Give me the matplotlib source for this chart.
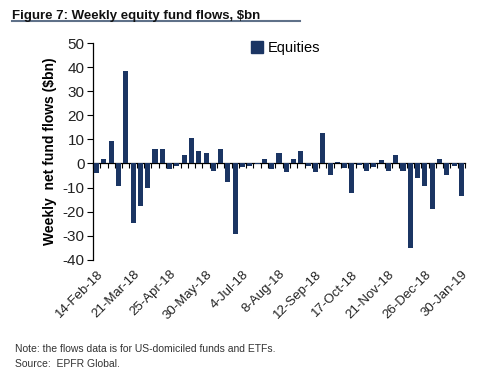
import matplotlib
matplotlib.use("Agg")
import matplotlib.pyplot as plt
from matplotlib.lines import Line2D
import numpy as np

weeks = ["14-Feb-18", "21-Feb-18", "28-Feb-18", "7-Mar-18", "14-Mar-18",
         "21-Mar-18", "28-Mar-18", "4-Apr-18", "11-Apr-18", "18-Apr-18",
         "25-Apr-18", "2-May-18", "9-May-18", "16-May-18", "23-May-18",
         "30-May-18", "6-Jun-18", "13-Jun-18", "20-Jun-18", "27-Jun-18",
         "4-Jul-18", "11-Jul-18", "18-Jul-18", "25-Jul-18", "1-Aug-18",
         "8-Aug-18", "15-Aug-18", "22-Aug-18", "29-Aug-18", "5-Sep-18",
         "12-Sep-18", "19-Sep-18", "26-Sep-18", "3-Oct-18", "10-Oct-18",
         "17-Oct-18", "24-Oct-18", "31-Oct-18", "7-Nov-18", "14-Nov-18",
         "21-Nov-18", "28-Nov-18", "5-Dec-18", "12-Dec-18", "19-Dec-18",
         "26-Dec-18", "2-Jan-19", "9-Jan-19", "16-Jan-19", "23-Jan-19",
         "30-Jan-19"]
equities = [-3.8, 1.8, 9.5, -9.5, 38.5, -24.5, -17.6, -10.3, 6.0, 6.0,
            -2.2, -1.0, 3.6, 10.6, 5.3, 4.3, -3.0, 6.0, -7.8, -29.2,
            -1.6, -1.2, -0.3, 1.8, -2.4, 4.3, -3.5, 1.9, 5.3, -1.2,
            -3.5, 12.7, -4.6, 0.7, -1.8, -12.1, -0.8, -3.0, -1.3, 1.3,
            -3.0, 3.6, -3.0, -35.0, -6.0, -9.5, -19.0, 1.9, -4.7, -1.1,
            -13.7]
tick_every = 5

navy = "#1b3563"
font = ["Liberation Sans", "DejaVu Sans"]

fig = plt.figure(figsize=(5.0, 3.81), dpi=100)
ax = fig.add_axes([0.186, 0.318, 0.744, 0.569])

x = np.arange(len(equities))
ax.bar(x, equities, width=0.7, color=navy, zorder=3)

ymin, ymax = -40, 50
ax.set_ylim(ymin, ymax)
ax.set_xlim(-0.5, len(equities) - 0.5)
ax.set_yticks(np.arange(ymin, ymax + 1, 10))
ax.set_yticklabels([str(v) for v in np.arange(ymin, ymax + 1, 10)],
                   fontsize=11, family=font, color="#222222")
ax.tick_params(axis="y", direction="out", length=4, width=0.8, pad=2)

ax.set_xticks(x[::tick_every])
ax.set_xticklabels(weeks[::tick_every], rotation=45, ha="right",
                   rotation_mode="anchor", fontsize=9.5, family=font,
                   color="#222222")
ax.tick_params(axis="x", length=0, pad=6)

for s in ["top", "right", "bottom"]:
    ax.spines[s].set_visible(False)
ax.spines["left"].set_linewidth(0.9)

# zero line with category tick marks
zero_frac = (0 - ymin) / (ymax - ymin)
sec = ax.secondary_xaxis(zero_frac)
sec.set_xticks(np.arange(-0.5, len(equities), 1.0))
sec.set_xticklabels([])
sec.tick_params(direction="out", length=3.5, width=0.8)
sec.spines["bottom"].set_linewidth(0.9)

ax.set_ylabel("Weekly  net fund flows ($bn)", fontsize=10, fontweight="bold",
              family=font, labelpad=4)

handle = Line2D([], [], marker="s", linestyle="none", markersize=8,
                markerfacecolor=navy, markeredgecolor=navy)
ax.legend([handle], ["Equities"], loc="upper center",
          bbox_to_anchor=(0.516, 1.07), frameon=False,
          handletextpad=0.3, handlelength=1.0,
          prop={"family": font, "size": 10.5})

fig.text(0.024, 0.973, "Figure 7: Weekly equity fund flows, $bn",
         fontsize=9.5, fontweight="bold", family=font, va="top",
         color="#111111")
fig.add_artist(Line2D([0.024, 0.6], [0.945, 0.945], color="#5f7189",
                      linewidth=1.5, transform=fig.transFigure))

fig.text(0.03, 0.085, "Note: the flows data is for US-domiciled funds and ETFs.",
         fontsize=7.5, family=font, color="#333333", va="center")
fig.text(0.03, 0.045, "Source:  EPFR Global.",
         fontsize=7.5, family=font, color="#333333", va="center")

fig.savefig("out.png", dpi=100)
